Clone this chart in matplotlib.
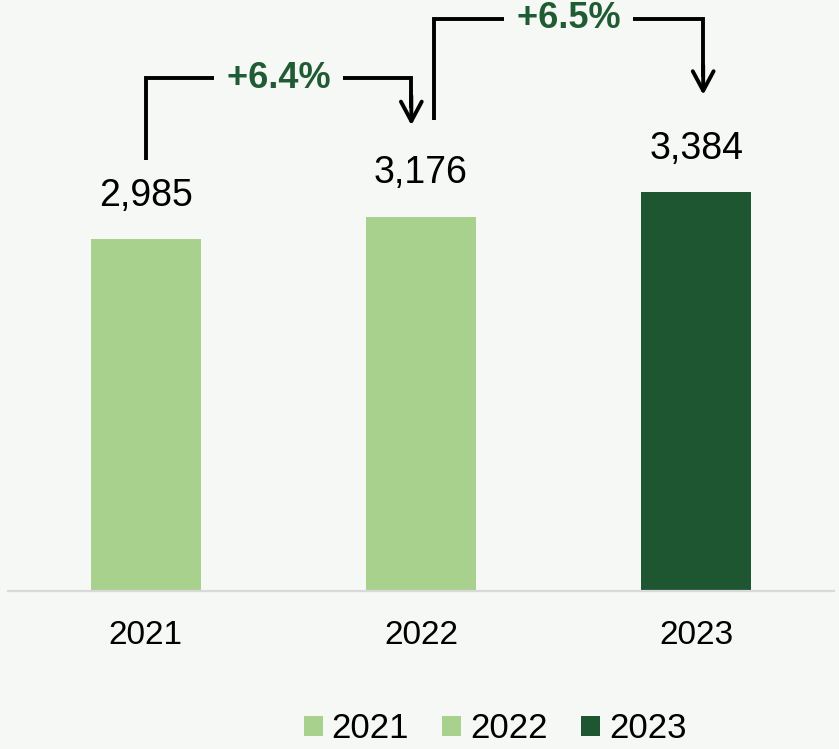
import matplotlib
matplotlib.use("Agg")
import matplotlib.pyplot as plt
from matplotlib.patches import Patch

# data
years = ["2021", "2022", "2023"]
values = [2985, 3176, 3384]
bar_colors = ["#a9d18e", "#a9d18e", "#1e5631"]

bg = "#f6f8f5"
pct_color = "#1f5c33"

plt.rcParams["font.family"] = ["Liberation Sans", "DejaVu Sans"]

fig = plt.figure(figsize=(8.39, 7.49), dpi=100, facecolor=bg)
ax = fig.add_axes([0.0095, 0.211, 0.9845, 0.789])
ax.set_facecolor(bg)

x = list(range(len(years)))
ax.bar(x, values, width=0.4, color=bar_colors, zorder=2)

ax.set_xlim(-0.5, 2.5)
ax.set_ylim(0, 5013)
ax.set_yticks([])
ax.set_xticks(x)
ax.set_xticklabels(years, fontsize=24)
ax.tick_params(axis="x", length=0, pad=21)
for side in ["top", "left", "right"]:
    ax.spines[side].set_visible(False)
ax.spines["bottom"].set_color("#d9d9d9")
ax.spines["bottom"].set_linewidth(1.6)

# value labels
for i, v in enumerate(values):
    ax.annotate(f"{v:,}", (i, v), xytext=(0, 24), textcoords="offset points",
                ha="center", va="baseline", fontsize=27)

# growth brackets: (start x, start y, top y, end x, tip y)
brackets = [
    (0.0, values[0] + 670, values[1] + 1175, 0.965, values[1] + 775),
    (1.047, values[1] + 820, values[2] + 1470, 2.025, values[2] + 825),
]
for k, (x0, y0, ytop, x1, y1) in enumerate(brackets):
    ax.plot([x0, x0, x1, x1], [y0, ytop, ytop, y1 + 150], color="black",
            lw=2.8, solid_joinstyle="miter", solid_capstyle="butt", zorder=3)
    ax.annotate("", xy=(x1, y1), xytext=(x1, y1 + 250),
                arrowprops=dict(arrowstyle="->,head_length=1.4,head_width=0.75",
                                color="black", lw=2.8, shrinkA=0, shrinkB=0),
                zorder=3)
    pct = (values[k + 1] / values[k] - 1) * 100
    ax.text((x0 + x1) / 2, ytop, f" +{pct:.1f}% ", ha="center", va="center",
            fontsize=26, fontweight="bold", color=pct_color, zorder=4,
            bbox=dict(facecolor=bg, edgecolor="none", pad=2))

handles = [Patch(facecolor=c) for c in bar_colors]
fig.legend(handles, years, loc="center", bbox_to_anchor=(0.59, 0.027), ncol=3,
           frameon=False, fontsize=25, handlelength=0.55, handleheight=0.55,
           handletextpad=0.26, columnspacing=0.95)

fig.savefig("out.png", dpi=100, facecolor=bg)
